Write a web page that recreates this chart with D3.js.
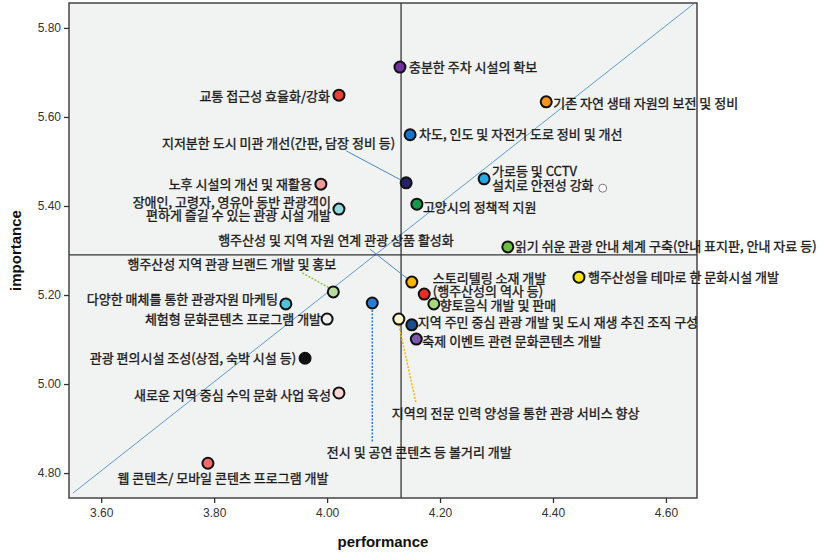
<!DOCTYPE html>
<html>
<head>
<meta charset="utf-8">
<script src="https://cdn.jsdelivr.net/npm/d3@7"></script>
<style>
  body { margin: 0; background: #fff; }
  svg text { font-family: "Noto Sans CJK KR", "Noto Sans", sans-serif; }
</style>
</head>
<body>
<div id="chart"></div>
<script>
// attribute names (one per point)
const items = [
  '충분한 주차 시설의 확보', '교통 접근성 효율화/강화', '차도, 인도 및 자전거 도로 정비 및 개선',
  '지저분한 도시 미관 개선', '노후 시설의 개선 및 재활용', '장애인 관광 시설 개발',
  '고양시의 정책적 지원', '기존 자연 생태 자원의 보전 및 정비', '가로등 및 CCTV 설치',
  '(unlabeled)', '읽기 쉬운 관광 안내 체계 구축', '행주산성 지역 관광 브랜드 개발 및 홍보',
  '다양한 매체를 통한 관광자원 마케팅', '체험형 문화콘텐츠 프로그램 개발', '관광 편의시설 조성',
  '새로운 지역 중심 수익 문화 사업 육성', '웹 콘텐츠/ 모바일 콘텐츠 프로그램 개발', '전시 및 공연 콘텐츠 등 볼거리 개발',
  '지역의 전문 인력 양성', '행주산성 및 지역 자원 연계 관광 상품 활성화', '스토리텔링 소재 개발',
  '향토음식 개발 및 판매', '지역 주민 중심 관광 개발', '축제 이벤트 관련 문화콘텐츠 개발',
  '행주산성을 테마로 한 문화시설 개발'
];
const performance = [4.129, 4.021, 4.147, 4.140, 3.989, 4.021, 4.159, 4.388, 4.278, 4.488,
                     4.320, 4.011, 3.927, 4.000, 3.961, 4.021, 3.789, 4.080, 4.127, 4.150,
                     4.172, 4.189, 4.150, 4.158, 4.446];
const importance = [5.712, 5.649, 5.560, 5.452, 5.449, 5.393, 5.404, 5.634, 5.461, 5.440,
                    5.308, 5.207, 5.180, 5.146, 5.058, 4.980, 4.822, 5.182, 5.146, 5.229,
                    5.202, 5.180, 5.133, 5.101, 5.240];
const pointColors = ['#7030a0', '#e8403a', '#1a73c6', '#24206a', '#f39a9a', '#8edcdc', '#17984a',
                     '#f7941d', '#27aae1', '#ffffff', '#6fbe44', '#b9dca0', '#4fc3d9', '#eeeeee',
                     '#111111', '#fbd5d5', '#f06c6c', '#2b7bd0', '#fbf5c8', '#f8b500', '#ec2c24',
                     '#a7d67e', '#1b4d8c', '#7d58a8', '#f8e21a'];

// axis ticks and reference lines
const xTicks = [3.6, 3.8, 4.0, 4.2, 4.4, 4.6];
const yTicks = [4.8, 5.0, 5.2, 5.4, 5.6, 5.8];
const meanPerformance = 4.131;
const meanImportance = 5.290;
const diagOffset = 1.205; // importance = performance + offset

// labels: point index, lines, offset from point, anchor
const labels = [
  {i: 0, t: ['충분한 주차 시설의 확보'], dx: 9, dy: 0, a: 'start'},
  {i: 1, t: ['교통 접근성 효율화/강화'], dx: -9, dy: 1, a: 'end'},
  {i: 2, t: ['차도, 인도 및 자전거 도로 정비 및 개선'], dx: 9, dy: 0, a: 'start'},
  {i: 3, t: ['지저분한 도시 미관 개선(간판, 담장 정비 등)'], dx: -11, dy: -39, a: 'end'},
  {i: 4, t: ['노후 시설의 개선 및 재활용'], dx: -9, dy: 0, a: 'end'},
  {i: 5, t: ['장애인, 고령자, 영유아 동반 관광객이', '편하게 즐길 수 있는 관광 시설 개발'], dx: -8, dy: -7, a: 'end'},
  {i: 6, t: ['고양시의 정책적 지원'], dx: 6, dy: 3, a: 'start'},
  {i: 7, t: ['기존 자연 생태 자원의 보전 및 정비'], dx: 7, dy: 2, a: 'start'},
  {i: 8, t: ['가로등 및 CCTV', '설치로 안전성 강화'], dx: 8, dy: -7, a: 'start'},
  {i: 10, t: ['읽기 쉬운 관광 안내 체계 구축(안내 표지판, 안내 자료 등)'], dx: 7, dy: 0, a: 'start'},
  {i: 11, t: ['행주산성 지역 관광 브랜드 개발 및 홍보'], dx: 3, dy: -27, a: 'end'},
  {i: 12, t: ['다양한 매체를 통한 관광자원 마케팅'], dx: -8, dy: -4, a: 'end'},
  {i: 13, t: ['체험형 문화콘텐츠 프로그램 개발'], dx: -6, dy: 0, a: 'end'},
  {i: 14, t: ['관광 편의시설 조성(상점, 숙박 시설 등)'], dx: -9, dy: 0, a: 'end'},
  {i: 15, t: ['새로운 지역 중심 수익 문화 사업 육성'], dx: -8, dy: 3, a: 'end'},
  {i: 16, t: ['웹 콘텐츠/ 모바일 콘텐츠 프로그램 개발'], dx: 15, dy: 15, a: 'middle'},
  {i: 17, t: ['전시 및 공연 콘텐츠 등 볼거리 개발'], dx: 47, dy: 149, a: 'middle'},
  {i: 18, t: ['지역의 전문 인력 양성을 통한 관광 서비스 향상'], dx: -7, dy: 94, a: 'start'},
  {i: 19, t: ['행주산성 및 지역 자원 연계 관광 상품 활성화'], dx: 42, dy: -42, a: 'end'},
  {i: 19, t: ['스토리텔링 소재 개발', '(행주산성의 역사 등)'], dx: 21, dy: -4, a: 'start'},
  {i: 21, t: ['향토음식 개발 및 판매'], dx: 6, dy: 2, a: 'start'},
  {i: 22, t: ['지역 주민 중심 관광 개발 및 도시 재생 추진 조직 구성'], dx: 6, dy: -2, a: 'start'},
  {i: 23, t: ['축제 이벤트 관련 문화콘텐츠 개발'], dx: 6, dy: 2, a: 'start'},
  {i: 24, t: ['행주산성을 테마로 한 문화시설 개발'], dx: 9, dy: 0, a: 'start'}
];

// leader lines: point index, start/end offsets, colour, dashed
const leaders = [
  {i: 3, x1: -60, y1: -32, x2: 0, y2: 0, c: '#4a86c8', dash: null},
  {i: 19, x1: -42, y1: -33, x2: 0, y2: 0, c: '#4a86c8', dash: null},
  {i: 11, x1: -31, y1: -19, x2: -4, y2: -4, c: '#8cc63f', dash: '2,1.5'},
  {i: 17, x1: 0, y1: 7, x2: 0, y2: 140, c: '#2b7bd0', dash: '2,1.5'},
  {i: 18, x1: 0, y1: 6, x2: 17, y2: 83, c: '#f8b500', dash: '2,1.5'}
];

const W = 825, H = 555;
const plotL = 69, plotR = 697, plotT = 3, plotB = 498;
const lineGap = 13.5;

const svg = d3.select('#chart').append('svg')
  .attr('width', W)
  .attr('height', H);

const x = d3.scaleLinear().domain([3.543, 4.655]).range([plotL, plotR]);
const y = d3.scaleLinear().domain([4.744, 5.856]).range([plotB, plotT]);

// plot background
svg.append('rect')
  .attr('x', plotL).attr('y', plotT)
  .attr('width', plotR - plotL).attr('height', plotB - plotT)
  .attr('fill', '#f1f2f2');

// diagonal
const d0 = 3.55, d1 = 4.65;
svg.append('line')
  .attr('x1', x(d0)).attr('y1', y(d0 + diagOffset))
  .attr('x2', x(d1)).attr('y2', y(d1 + diagOffset))
  .attr('stroke', '#5b9bd5')
  .attr('stroke-width', 1);

// mean lines
svg.append('line')
  .attr('x1', x(meanPerformance)).attr('x2', x(meanPerformance))
  .attr('y1', plotT).attr('y2', plotB)
  .attr('stroke', '#333').attr('stroke-width', 1.3);
svg.append('line')
  .attr('x1', plotL).attr('x2', plotR)
  .attr('y1', y(meanImportance)).attr('y2', y(meanImportance))
  .attr('stroke', '#333').attr('stroke-width', 1.3);

// border
svg.append('rect')
  .attr('x', plotL).attr('y', plotT)
  .attr('width', plotR - plotL).attr('height', plotB - plotT)
  .attr('fill', 'none')
  .attr('stroke', '#444')
  .attr('stroke-width', 1.5);

// axes
const xAxis = svg.append('g')
  .attr('transform', 'translate(0,' + plotB + ')')
  .call(d3.axisBottom(x).tickValues(xTicks).tickFormat(d3.format('.2f')).tickSize(5).tickSizeOuter(0));
const yAxis = svg.append('g')
  .attr('transform', 'translate(' + plotL + ',0)')
  .call(d3.axisLeft(y).tickValues(yTicks).tickFormat(d3.format('.2f')).tickSize(5).tickSizeOuter(0));

[xAxis, yAxis].forEach(g => {
  g.select('.domain').remove();
  g.selectAll('line').attr('stroke', '#333').attr('stroke-width', 1.3);
  g.selectAll('text')
    .style('font-family', '"Liberation Sans Narrow", "Liberation Sans", Arial, sans-serif')
    .style('font-size', '12px')
    .attr('fill', '#333');
});
xAxis.selectAll('text').attr('dy', '0.9em');

// axis titles
svg.append('text')
  .attr('x', (plotL + plotR) / 2)
  .attr('y', 547)
  .attr('text-anchor', 'middle')
  .style('font-family', '"Liberation Sans", Arial, sans-serif')
  .style('font-weight', 'bold')
  .style('font-size', '15px')
  .attr('fill', '#111')
  .text('performance');
svg.append('text')
  .attr('transform', 'translate(21,' + ((plotT + plotB) / 2) + ') rotate(-90)')
  .attr('text-anchor', 'middle')
  .style('font-family', '"Liberation Sans", Arial, sans-serif')
  .style('font-weight', 'bold')
  .style('font-size', '15px')
  .attr('fill', '#111')
  .text('importance');

// leader lines
svg.selectAll('.leader')
  .data(leaders)
  .enter()
  .append('line')
  .attr('class', 'leader')
  .attr('x1', d => x(performance[d.i]) + d.x1)
  .attr('y1', d => y(importance[d.i]) + d.y1)
  .attr('x2', d => x(performance[d.i]) + d.x2)
  .attr('y2', d => y(importance[d.i]) + d.y2)
  .attr('stroke', d => d.c)
  .attr('stroke-width', d => d.dash ? 1.5 : 1)
  .attr('stroke-dasharray', d => d.dash);

// points
svg.selectAll('.pt')
  .data(items.map((name, i) => ({name, p: performance[i], imp: importance[i], c: pointColors[i], i})))
  .enter()
  .append('circle')
  .attr('class', 'pt')
  .attr('cx', d => x(d.p))
  .attr('cy', d => y(d.imp))
  .attr('r', d => d.i === 9 ? 4 : 5.5)
  .attr('fill', d => d.c)
  .attr('stroke', d => d.i === 9 ? '#777' : '#111')
  .attr('stroke-width', d => d.i === 9 ? 1 : 2);

// labels (thin stroke to match the heavier print of the source)
const lab = svg.selectAll('.lab')
  .data(labels)
  .enter()
  .append('text')
  .attr('class', 'lab')
  .attr('text-anchor', d => d.a)
  .style('font-size', '13px')
  .attr('fill', '#1a1a1a')
  .attr('stroke', '#1a1a1a')
  .attr('stroke-width', 0.35);

lab.selectAll('tspan')
  .data(d => d.t.map((s, k) => ({s, k, d})))
  .enter()
  .append('tspan')
  .attr('x', t => x(performance[t.d.i]) + t.d.dx)
  .attr('y', t => y(importance[t.d.i]) + t.d.dy + t.k * lineGap)
  .attr('dy', '0.35em')
  .text(t => t.s);
</script>
</body>
</html>
